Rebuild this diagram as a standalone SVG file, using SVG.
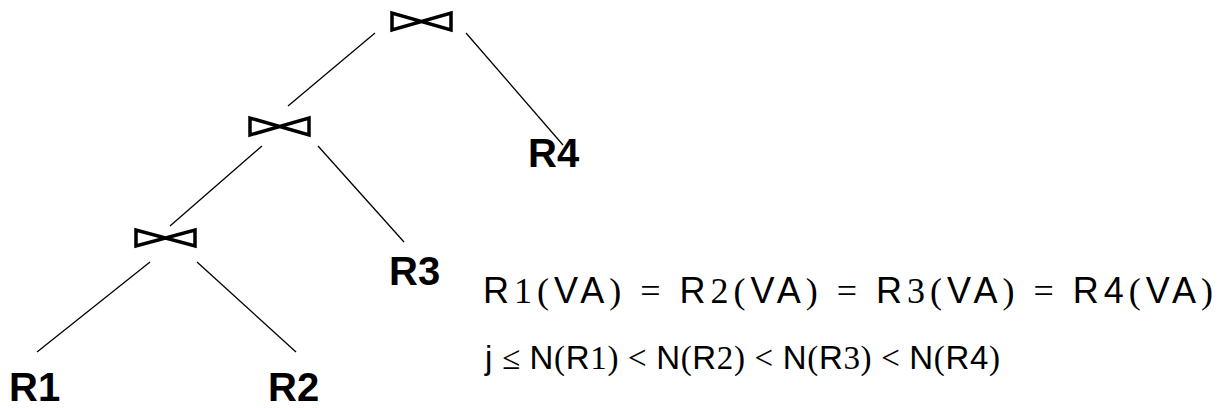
<svg xmlns="http://www.w3.org/2000/svg" width="1224" height="408" viewBox="0 0 1224 408">
<style>
.bt{fill:none;stroke:#000;stroke-width:3.5;stroke-linejoin:miter}
.ln{stroke:#000;stroke-width:1.3;fill:none}
.lbl{font-family:"Liberation Sans",Arial,sans-serif;font-weight:bold;font-size:40px;fill:#000}
.eq{font-size:36px;fill:#000}
.eq2{font-size:33px;fill:#000}
.s{font-family:"Liberation Sans",Arial,sans-serif}
.r{font-family:"Liberation Serif","Times New Roman",serif}
</style>
<g id="connectors">
<line class="ln" x1="375" y1="33" x2="288" y2="106"/>
<line class="ln" x1="466" y1="33" x2="563" y2="145"/>
<line class="ln" x1="262" y1="146" x2="170" y2="226"/>
<line class="ln" x1="318" y1="146" x2="404" y2="242"/>
<line class="ln" x1="150" y1="262" x2="37" y2="352"/>
<line class="ln" x1="197" y1="262" x2="296" y2="352"/>
</g>
<g id="join1"><path class="bt" d="M392,13 L392,30 L451,13 L451,30 Z"/></g>
<g id="join2"><path class="bt" d="M250,118 L250,135 L309,118 L309,135 Z"/></g>
<g id="join3"><path class="bt" d="M136,230 L136,246 L195,230 L195,246 Z"/></g>
<g id="R4"><text class="lbl" x="528" y="167">R4</text></g>
<g id="R3"><text class="lbl" x="389" y="285">R3</text></g>
<g id="R1"><text class="lbl" x="9" y="401">R1</text></g>
<g id="R2"><text class="lbl" x="268" y="401">R2</text></g>
<g id="eq1"><text class="eq" x="483" y="303" textLength="730" lengthAdjust="spacing"><tspan class="s">R</tspan><tspan class="r">1(</tspan><tspan class="s">VA</tspan><tspan class="r">) = </tspan><tspan class="s">R</tspan><tspan class="r">2(</tspan><tspan class="s">VA</tspan><tspan class="r">) = </tspan><tspan class="s">R</tspan><tspan class="r">3(</tspan><tspan class="s">VA</tspan><tspan class="r">) = </tspan><tspan class="s">R4</tspan><tspan class="r">(</tspan><tspan class="s">VA</tspan><tspan class="r">)</tspan></text></g>
<g id="eq2"><text class="eq2" x="485" y="369" textLength="515" lengthAdjust="spacing"><tspan class="s">j</tspan><tspan class="r"> ≤ </tspan><tspan class="s">N</tspan><tspan class="r">(</tspan><tspan class="s">R</tspan><tspan class="r">1) &lt; </tspan><tspan class="s">N</tspan><tspan class="r">(</tspan><tspan class="s">R</tspan><tspan class="r">2) &lt; </tspan><tspan class="s">N</tspan><tspan class="r">(</tspan><tspan class="s">R</tspan><tspan class="r">3) &lt; </tspan><tspan class="s">N</tspan><tspan class="r">(</tspan><tspan class="s">R4</tspan><tspan class="r">)</tspan></text></g>
</svg>
